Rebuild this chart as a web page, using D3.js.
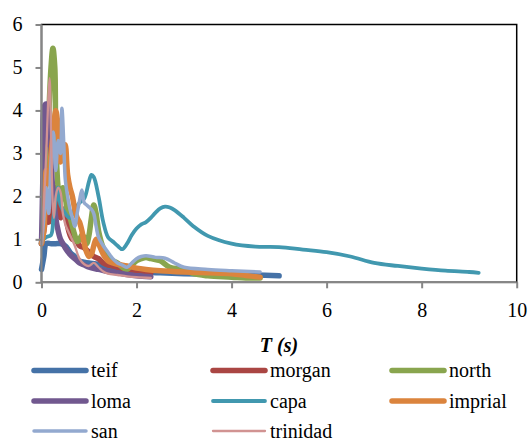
<!DOCTYPE html>
<html><head><meta charset="utf-8">
<script src="https://cdn.jsdelivr.net/npm/d3@7"></script>
</head><body style="margin:0">
<svg id="c" width="530" height="440"></svg>
<script>
const seriesNames = ["teif","morgan","north","loma","capa","imprial","san","trinidad"];
const seriesColors = ["#4572A7","#AA4643","#89A54E","#71588F","#4198AF","#DB843D","#93A9CF","#D19392"];
const seriesWidths = [5.5,5.5,5.5,5.5,3.8,5.5,3.5,2.3];
const xTicks = [0,2,4,6,8,10];
const yTicks = [0,1,2,3,4,5,6];

const teif = [[0,0.3],[0.05,0.6],[0.1,0.9],[0.2,0.9],[0.3,0.9],[0.4,0.9],[0.5,0.85],[0.6,0.7],[0.7,0.6],[0.8,0.5],[0.9,0.47],[1.0,0.45],[1.2,0.42],[1.4,0.36],[1.6,0.3],[1.8,0.28],[2.0,0.25],[2.5,0.22],[3.0,0.2],[3.5,0.19],[4.0,0.18],[4.5,0.17],[5.0,0.15]];
const morgan = [[0,0.9],[0.05,1.2],[0.1,1.5],[0.15,1.4],[0.2,1.8],[0.25,2.0],[0.3,2.2],[0.35,2.1],[0.4,1.5],[0.45,1.7],[0.5,1.65],[0.55,1.3],[0.6,1.1],[0.65,1.0],[0.7,1.0],[0.75,0.95],[0.8,0.85],[0.9,0.8],[1.0,0.7],[1.1,0.6],[1.2,0.55],[1.3,0.45],[1.4,0.4],[1.5,0.38],[1.6,0.35],[1.8,0.3],[2.0,0.28],[2.2,0.25],[2.3,0.22]];
const north = [[0,0.9],[0.05,1.5],[0.1,2.5],[0.15,3.8],[0.2,5.0],[0.24,5.45],[0.28,5.0],[0.3,3.5],[0.35,2.2],[0.4,1.9],[0.45,2.2],[0.5,2.0],[0.55,1.6],[0.6,1.5],[0.65,1.3],[0.7,1.1],[0.75,0.95],[0.8,1.0],[0.85,1.1],[0.9,1.05],[0.95,0.9],[1.0,1.1],[1.05,1.5],[1.1,1.8],[1.15,1.6],[1.2,1.2],[1.3,0.8],[1.4,0.6],[1.5,0.5],[1.6,0.45],[1.7,0.35],[1.8,0.3],[1.9,0.4],[2.0,0.5],[2.1,0.55],[2.2,0.58],[2.3,0.55],[2.5,0.5],[2.7,0.35],[3.0,0.3],[3.2,0.2],[3.5,0.15],[4.0,0.12],[4.3,0.1],[4.6,0.1]];
const loma = [[0,0.9],[0.03,2.5],[0.06,4.1],[0.1,4.15],[0.13,3.8],[0.15,3.2],[0.18,3.6],[0.2,2.8],[0.25,2.0],[0.3,1.5],[0.35,1.2],[0.4,1.0],[0.45,0.9],[0.5,0.8],[0.6,0.65],[0.7,0.55],[0.8,0.45],[0.9,0.4],[1.0,0.35],[1.2,0.3],[1.4,0.25],[1.6,0.22],[1.8,0.18],[2.0,0.15],[2.3,0.13]];
const capa = [[0,0.95],[0.1,1.05],[0.2,1.1],[0.25,1.5],[0.3,1.9],[0.35,2.2],[0.4,1.8],[0.5,1.6],[0.6,1.5],[0.7,1.7],[0.8,1.85],[0.9,1.95],[1.0,2.35],[1.05,2.5],[1.1,2.45],[1.2,2.0],[1.3,1.4],[1.4,1.05],[1.5,0.95],[1.6,0.85],[1.7,0.77],[1.8,0.9],[1.9,1.1],[2.0,1.25],[2.1,1.35],[2.2,1.4],[2.3,1.5],[2.4,1.62],[2.5,1.72],[2.6,1.76],[2.7,1.74],[2.8,1.68],[3.0,1.5],[3.2,1.3],[3.5,1.08],[4.0,0.9],[4.5,0.83],[5.0,0.82],[5.5,0.76],[6.0,0.7],[6.5,0.6],[7.0,0.45],[7.5,0.38],[8.0,0.32],[8.5,0.27],[9.0,0.24],[9.2,0.22]];
const imprial = [[0,0.9],[0.05,1.2],[0.1,2.6],[0.15,2.3],[0.2,3.0],[0.25,3.5],[0.3,4.0],[0.35,3.6],[0.4,2.8],[0.45,2.9],[0.5,3.2],[0.55,2.5],[0.6,2.2],[0.65,2.0],[0.7,1.7],[0.75,1.5],[0.8,1.4],[0.85,1.2],[0.9,0.9],[0.95,0.7],[1.0,0.6],[1.05,0.65],[1.1,0.85],[1.15,1.0],[1.2,0.9],[1.3,0.65],[1.4,0.5],[1.5,0.45],[1.6,0.42],[1.8,0.38],[2.0,0.33],[2.2,0.3],[2.5,0.27],[3.0,0.24],[3.5,0.22],[4.0,0.2],[4.3,0.16],[4.6,0.12]];
const san = [[0,0.9],[0.05,1.5],[0.1,2.2],[0.15,1.6],[0.2,2.8],[0.25,3.5],[0.3,2.6],[0.35,3.3],[0.4,3.0],[0.43,4.05],[0.47,3.2],[0.5,2.4],[0.55,2.0],[0.6,1.7],[0.65,1.5],[0.7,1.3],[0.75,1.6],[0.8,1.9],[0.85,2.15],[0.9,1.85],[0.95,1.8],[1.0,1.75],[1.05,1.7],[1.1,1.6],[1.15,1.3],[1.2,1.05],[1.3,0.85],[1.4,0.7],[1.5,0.55],[1.6,0.45],[1.7,0.4],[1.8,0.35],[1.9,0.45],[2.0,0.55],[2.1,0.6],[2.2,0.62],[2.4,0.58],[2.6,0.56],[2.8,0.45],[3.0,0.35],[3.5,0.3],[4.0,0.27],[4.6,0.24]];
const trinidad = [[0,0.9],[0.05,1.8],[0.1,3.0],[0.14,4.2],[0.17,4.75],[0.2,3.5],[0.23,2.0],[0.26,1.5],[0.3,2.0],[0.35,2.2],[0.4,2.1],[0.45,1.6],[0.5,1.35],[0.6,1.1],[0.7,0.85],[0.8,0.55],[0.9,0.42],[1.0,0.38],[1.1,0.45],[1.2,0.35],[1.3,0.25],[1.4,0.2],[1.6,0.17],[1.8,0.14],[2.0,0.12],[2.3,0.1]];
const seriesData = [teif,morgan,north,loma,capa,imprial,san,trinidad];

const svg = d3.select("#c");
const L=41.5, R=516.7, T=24.5, B=282.3;
const x = d3.scaleLinear().domain([0,10]).range([L,R]);
const y = d3.scaleLinear().domain([0,6]).range([B,T]);
const font = "Liberation Serif";
const setFont = s => s.attr("font-family",font).style("font-family",font,"important");

svg.append("rect").attr("x",L).attr("y",T).attr("width",R-L).attr("height",B-T)
  .attr("fill","none").attr("stroke","#000").attr("stroke-width",1.5);

const line = d3.line().x(d=>x(d[0])).y(d=>y(d[1])).curve(d3.curveCatmullRom.alpha(0.5));
svg.append("g").selectAll("path").data(seriesData).join("path")
  .attr("d",d=>line(d)).attr("fill","none")
  .attr("stroke",(d,i)=>seriesColors[i]).attr("stroke-width",(d,i)=>seriesWidths[i])
  .attr("stroke-linecap","round").attr("stroke-linejoin","round");

const xAxis = svg.append("g").attr("transform",`translate(0,${B})`)
  .call(d3.axisBottom(x).tickValues(xTicks).tickSize(6).tickPadding(15).tickFormat(d3.format("d")));
const yAxis = svg.append("g").attr("transform",`translate(${L},0)`)
  .call(d3.axisLeft(y).tickValues(yTicks).tickSize(6).tickPadding(13).tickFormat(d3.format("d")));
[xAxis,yAxis].forEach(a=>{
  setFont(a).attr("font-size",20);
  a.select(".domain").attr("stroke","#868686").attr("stroke-width",2);
  a.selectAll(".tick line").attr("stroke","#868686").attr("stroke-width",2);
  setFont(a.selectAll("text")).attr("fill","#000").attr("font-size",20);
});
xAxis.select(".domain").attr("d",`M${L},0H${R}`);
yAxis.select(".domain").attr("d",`M0,${B}V${T}`);

setFont(svg.append("text")).attr("x",279).attr("y",352).attr("text-anchor","middle")
  .attr("font-size",20).attr("font-weight","bold").attr("font-style","italic")
  .text("T (s)");

const legCols=[34,213,392], legRows=[370.5,401,431];
const leg = svg.append("g").selectAll("g").data(seriesNames).join("g")
  .attr("transform",(d,i)=>`translate(${legCols[i%3]},${legRows[Math.floor(i/3)]})`);
leg.append("line").attr("x1",0).attr("x2",52).attr("y1",0).attr("y2",0)
  .attr("stroke",(d,i)=>seriesColors[i]).attr("stroke-width",(d,i)=>Math.min(seriesWidths[i],5.5))
  .attr("stroke-linecap","round");
setFont(leg.append("text")).attr("x",57).attr("y",6.5).text(d=>d).attr("font-size",20);
</script>
</body></html>
